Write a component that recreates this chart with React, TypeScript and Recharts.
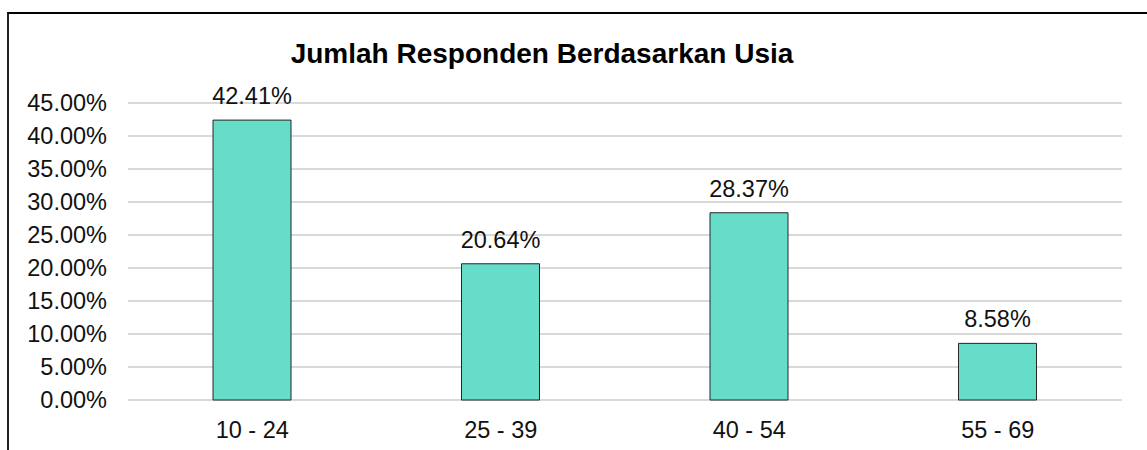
import React from 'react';
import { BarChart, Bar, XAxis, YAxis, CartesianGrid, LabelList } from 'recharts';

const ageGroups = ['10 - 24', '25 - 39', '40 - 54', '55 - 69'];
const shares = [42.41, 20.64, 28.37, 8.58];
const yTicks = [0, 5, 10, 15, 20, 25, 30, 35, 40, 45];

const data = ageGroups.map((age, i) => ({ age, share: shares[i] }));

const font = "Arial, 'Liberation Sans', sans-serif";
const pct = (v: number) => `${v.toFixed(2)}%`;

export default function App() {
  return (
    <div style={{ position: 'fixed', left: 0, top: 0, width: 1147, height: 450, background: '#fff', fontFamily: font }}>
      {/* chart frame */}
      <div
        style={{
          position: 'absolute',
          left: 7,
          top: 12,
          right: 0,
          bottom: 0,
          borderTop: '2px solid #000',
          borderLeft: '2px solid #222',
        }}
      />
      <div
        style={{
          position: 'absolute',
          left: 242,
          top: 40,
          width: 600,
          textAlign: 'center',
          fontSize: 28,
          lineHeight: '28px',
          fontWeight: 'bold',
          color: '#000',
        }}
      >
        Jumlah Responden Berdasarkan Usia
      </div>
      <div style={{ position: 'absolute', left: 0, top: 0 }}>
        <BarChart width={1147} height={450} data={data} margin={{ top: 103, right: 25, bottom: 10, left: 0 }}>
          <CartesianGrid vertical={false} stroke="#d9d9d9" strokeWidth={2} />
          <XAxis
            dataKey="age"
            axisLine={false}
            tickLine={false}
            tickSize={0}
            tickMargin={21}
            height={40}
            tick={{ fill: '#111', fontSize: 23.5, fontFamily: font }}
          />
          <YAxis
            domain={[0, 45]}
            ticks={yTicks}
            tickFormatter={pct}
            axisLine={false}
            tickLine={false}
            tickSize={0}
            tickMargin={21}
            width={128}
            tick={{ fill: '#111', fontSize: 23.5, fontFamily: font }}
          />
          <Bar dataKey="share" fill="#66DDC8" stroke="#262626" strokeWidth={1} barSize={78} isAnimationActive={false}>
            <LabelList
              dataKey="share"
              position="top"
              offset={16}
              formatter={(v: any) => pct(Number(v))}
              style={{ fill: '#111', fontSize: 23.5, fontFamily: font }}
            />
          </Bar>
        </BarChart>
      </div>
    </div>
  );
}
